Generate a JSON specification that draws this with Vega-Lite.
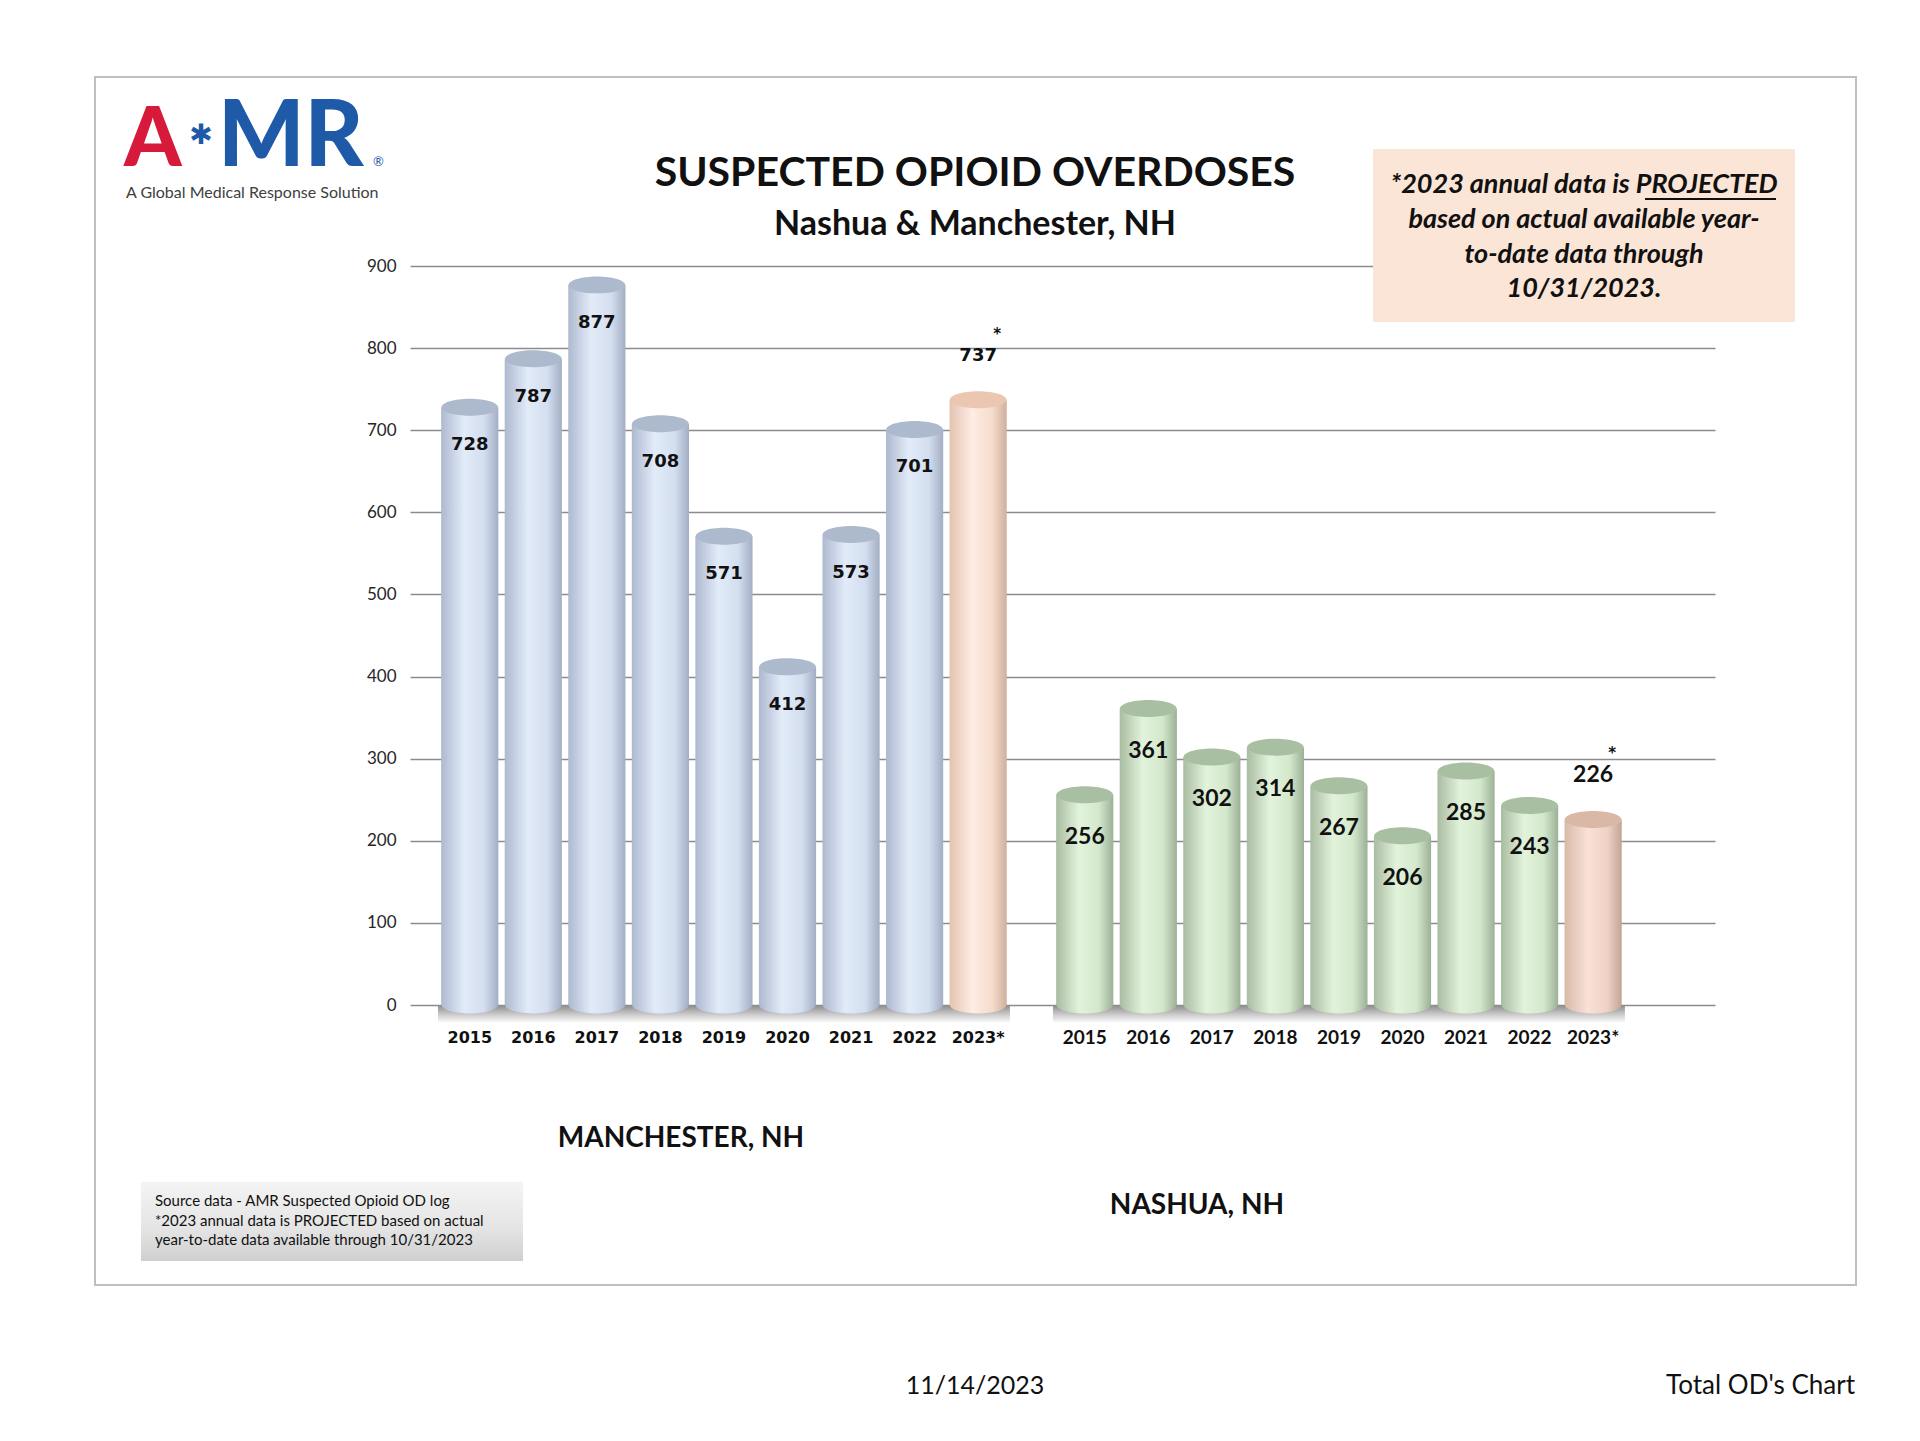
{
  "$schema": "https://vega.github.io/schema/vega-lite/v6.json",
  "width": 1305,
  "height": 739,
  "autosize": {"type": "none"},
  "padding": {"left": 410, "top": 266, "right": 205, "bottom": 436},
  "background": "white",
  "config": {
    "view": {"stroke": null},
    "font": "Lato",
    "axisY": {
      "domain": false, "ticks": false, "grid": true, "gridColor": "#8C8C8C", "gridWidth": 1.5,
      "labelFont": "Lato", "labelFontSize": 17, "labelColor": "#262626", "labelPadding": 14, "title": null
    }
  },
  "datasets": {
    "od": [
      {"city": "Manchester", "year": "2015", "value": 728, "proj": false},
      {"city": "Manchester", "year": "2016", "value": 787, "proj": false},
      {"city": "Manchester", "year": "2017", "value": 877, "proj": false},
      {"city": "Manchester", "year": "2018", "value": 708, "proj": false},
      {"city": "Manchester", "year": "2019", "value": 571, "proj": false},
      {"city": "Manchester", "year": "2020", "value": 412, "proj": false},
      {"city": "Manchester", "year": "2021", "value": 573, "proj": false},
      {"city": "Manchester", "year": "2022", "value": 701, "proj": false},
      {"city": "Manchester", "year": "2023*", "value": 737, "proj": true},
      {"city": "Nashua", "year": "2015", "value": 256, "proj": false},
      {"city": "Nashua", "year": "2016", "value": 361, "proj": false},
      {"city": "Nashua", "year": "2017", "value": 302, "proj": false},
      {"city": "Nashua", "year": "2018", "value": 314, "proj": false},
      {"city": "Nashua", "year": "2019", "value": 267, "proj": false},
      {"city": "Nashua", "year": "2020", "value": 206, "proj": false},
      {"city": "Nashua", "year": "2021", "value": 285, "proj": false},
      {"city": "Nashua", "year": "2022", "value": 243, "proj": false},
      {"city": "Nashua", "year": "2023*", "value": 226, "proj": true}
    ],
    "cities": [
      {"city": "Manchester", "label": "MANCHESTER, NH"},
      {"city": "Nashua", "label": "NASHUA, NH"}
    ],
    "one": [{}]
  },
  "layer": [
    {
      "data": {"name": "one"},
      "mark": {"type": "rect", "x": -315, "x2": 1446, "y": -189, "y2": 1019, "fill": "transparent", "stroke": "#BFBFBF", "strokeWidth": 2}
    },
    {
      "data": {"name": "cities"},
      "mark": {"type": "bar", "fill": {"gradient": "linear", "x1": 0, "x2": 0, "y1": 0, "y2": 1, "stops": [{"offset": 0, "color": "#8A8A8A"}, {"offset": 0.5, "color": "#C8C8C8"}, {"offset": 1, "color": "#FFFFFF"}]}},
      "encoding": {
        "x": {"field": "city", "type": "nominal", "axis": null},
        "y": {"datum": 0, "type": "quantitative"},
        "y2": {"datum": -22}
      }
    },
    {
      "data": {"name": "od"},
      "encoding": {
        "x": {"field": "city", "type": "nominal", "axis": null, "scale": {"paddingInner": 0.07, "paddingOuter": 0.096, "align": 0.237}},
        "xOffset": {"field": "year", "type": "nominal", "scale": {"paddingInner": 0.1, "paddingOuter": 0.05}},
        "y": {"field": "value", "type": "quantitative", "scale": {"domain": [0, 900], "nice": false},
              "axis": {"values": [0, 100, 200, 300, 400, 500, 600, 700, 800, 900]}}
      },
      "layer": [
        {
          "mark": {"type": "point", "filled": true, "opacity": 1, "strokeWidth": 0, "size": 3200,
                   "shape": "M -1 0 A 1 0.3 0 1 1 1 0 A 1 0.3 0 1 1 -1 0 Z"},
          "encoding": {
            "y": {"datum": 0, "type": "quantitative"},
            "fill": {
              "condition": [
                {"test": "datum.city === 'Manchester' && datum.proj", "value": {"gradient": "linear", "x1": 0, "x2": 1, "y1": 0, "y2": 0, "stops": [{"offset": 0, "color": "#E4C3B0"}, {"offset": 0.4, "color": "#FDEDE3"}, {"offset": 0.75, "color": "#F5DCCB"}, {"offset": 1, "color": "#CFAF9D"}]}},
                {"test": "datum.city === 'Nashua' && datum.proj", "value": {"gradient": "linear", "x1": 0, "x2": 1, "y1": 0, "y2": 0, "stops": [{"offset": 0, "color": "#D9B9A9"}, {"offset": 0.4, "color": "#F8E1D6"}, {"offset": 0.75, "color": "#EFD2C4"}, {"offset": 1, "color": "#C3A597"}]}},
                {"test": "datum.city === 'Nashua'", "value": {"gradient": "linear", "x1": 0, "x2": 1, "y1": 0, "y2": 0, "stops": [{"offset": 0, "color": "#A9BDA2"}, {"offset": 0.4, "color": "#E2F3DC"}, {"offset": 0.75, "color": "#D3E8CB"}, {"offset": 1, "color": "#9CB096"}]}}
              ],
              "value": {"gradient": "linear", "x1": 0, "x2": 1, "y1": 0, "y2": 0, "stops": [{"offset": 0, "color": "#AEB9D0"}, {"offset": 0.4, "color": "#E2EBF8"}, {"offset": 0.75, "color": "#D3DEEF"}, {"offset": 1, "color": "#A3AEC4"}]}
            }
          }
        },
        {
          "mark": {"type": "bar"},
          "encoding": {
            "fill": {
              "condition": [
                {"test": "datum.city === 'Manchester' && datum.proj", "value": {"gradient": "linear", "x1": 0, "x2": 1, "y1": 0, "y2": 0, "stops": [{"offset": 0, "color": "#E4C3B0"}, {"offset": 0.4, "color": "#FDEDE3"}, {"offset": 0.75, "color": "#F5DCCB"}, {"offset": 1, "color": "#CFAF9D"}]}},
                {"test": "datum.city === 'Nashua' && datum.proj", "value": {"gradient": "linear", "x1": 0, "x2": 1, "y1": 0, "y2": 0, "stops": [{"offset": 0, "color": "#D9B9A9"}, {"offset": 0.4, "color": "#F8E1D6"}, {"offset": 0.75, "color": "#EFD2C4"}, {"offset": 1, "color": "#C3A597"}]}},
                {"test": "datum.city === 'Nashua'", "value": {"gradient": "linear", "x1": 0, "x2": 1, "y1": 0, "y2": 0, "stops": [{"offset": 0, "color": "#A9BDA2"}, {"offset": 0.4, "color": "#E2F3DC"}, {"offset": 0.75, "color": "#D3E8CB"}, {"offset": 1, "color": "#9CB096"}]}}
              ],
              "value": {"gradient": "linear", "x1": 0, "x2": 1, "y1": 0, "y2": 0, "stops": [{"offset": 0, "color": "#AEB9D0"}, {"offset": 0.4, "color": "#E2EBF8"}, {"offset": 0.75, "color": "#D3DEEF"}, {"offset": 1, "color": "#A3AEC4"}]}
            }
          }
        },
        {
          "mark": {"type": "point", "filled": true, "opacity": 1, "strokeWidth": 0, "size": 3200,
                   "shape": "M -1 0 A 1 0.3 0 1 1 1 0 A 1 0.3 0 1 1 -1 0 Z"},
          "encoding": {
            "fill": {
              "condition": [
                {"test": "datum.city === 'Manchester' && datum.proj", "value": "#EBC6B1"},
                {"test": "datum.city === 'Nashua' && datum.proj", "value": "#DAB8A8"},
                {"test": "datum.city === 'Nashua'", "value": "#A9BFA1"}
              ],
              "value": "#ADB9CD"
            }
          }
        },
        {
          "transform": [{"filter": "datum.city === 'Manchester' && !datum.proj"}],
          "mark": {"type": "text", "font": "DejaVu Sans", "fontWeight": "bold", "fontSize": 18, "baseline": "middle", "dy": 38, "color": "#111111"},
          "encoding": {"text": {"field": "value", "type": "quantitative"}}
        },
        {
          "transform": [{"filter": "datum.city === 'Manchester' && datum.proj"}],
          "mark": {"type": "text", "font": "DejaVu Sans", "fontWeight": "bold", "fontSize": 18, "baseline": "middle", "dy": -44, "color": "#111111"},
          "encoding": {"text": {"field": "value", "type": "quantitative"}}
        },
        {
          "transform": [{"filter": "datum.city === 'Nashua' && !datum.proj"}],
          "mark": {"type": "text", "font": "Lato", "fontWeight": "bold", "fontSize": 23, "baseline": "middle", "dy": 42, "color": "#111111"},
          "encoding": {"text": {"field": "value", "type": "quantitative"}}
        },
        {
          "transform": [{"filter": "datum.city === 'Nashua' && datum.proj"}],
          "mark": {"type": "text", "font": "Lato", "fontWeight": "bold", "fontSize": 23, "baseline": "middle", "dy": -44, "color": "#111111"},
          "encoding": {"text": {"field": "value", "type": "quantitative"}}
        },
        {
          "transform": [{"filter": "datum.proj"}],
          "mark": {"type": "text", "font": "DejaVu Sans", "fontWeight": "bold", "fontSize": 15, "baseline": "middle", "dx": 19, "dy": -66, "color": "#111111"},
          "encoding": {"text": {"value": "*"}}
        },
        {
          "transform": [{"filter": "datum.city === 'Manchester'"}],
          "mark": {"type": "text", "font": "DejaVu Sans", "fontWeight": "bold", "fontSize": 16, "baseline": "middle", "dy": 33, "color": "#111111"},
          "encoding": {"y": {"datum": 0, "type": "quantitative"}, "text": {"field": "year", "type": "nominal"}}
        },
        {
          "transform": [{"filter": "datum.city === 'Nashua'"}],
          "mark": {"type": "text", "font": "Lato", "fontWeight": "bold", "fontSize": 19, "baseline": "middle", "dy": 33, "color": "#111111"},
          "encoding": {"y": {"datum": 0, "type": "quantitative"}, "text": {"field": "year", "type": "nominal"}}
        }
      ]
    },
    {
      "data": {"name": "cities"},
      "transform": [{"filter": "datum.city === 'Manchester'"}],
      "mark": {"type": "text", "font": "Lato", "fontWeight": "bold", "fontSize": 28, "baseline": "middle", "dx": -43, "dy": 134, "color": "#111111"},
      "encoding": {"x": {"field": "city", "type": "nominal", "axis": null}, "y": {"datum": 0, "type": "quantitative"}, "text": {"field": "label", "type": "nominal"}}
    },
    {
      "data": {"name": "cities"},
      "transform": [{"filter": "datum.city === 'Nashua'"}],
      "mark": {"type": "text", "font": "Lato", "fontWeight": "bold", "fontSize": 28, "baseline": "middle", "dx": -142, "dy": 201, "color": "#111111"},
      "encoding": {"x": {"field": "city", "type": "nominal", "axis": null}, "y": {"datum": 0, "type": "quantitative"}, "text": {"field": "label", "type": "nominal"}}
    },
    {
      "data": {"name": "one"},
      "mark": {"type": "rect", "x": 963, "x2": 1385, "y": -117, "y2": 56, "fill": "#FBE5D6"}
    },
    {
      "data": {"name": "one"},
      "mark": {"type": "text", "x": 1174, "y": -81, "align": "center", "baseline": "middle", "font": "Lato", "fontStyle": "italic", "fontWeight": "bold", "fontSize": 27, "color": "#111111", "text": "*2023 annual data is PROJECTED"}
    },
    {
      "data": {"name": "one"},
      "mark": {"type": "text", "x": 1174, "y": -46, "align": "center", "baseline": "middle", "font": "Lato", "fontStyle": "italic", "fontWeight": "bold", "fontSize": 27, "color": "#111111", "text": "based on actual available year-"}
    },
    {
      "data": {"name": "one"},
      "mark": {"type": "text", "x": 1174, "y": -11, "align": "center", "baseline": "middle", "font": "Lato", "fontStyle": "italic", "fontWeight": "bold", "fontSize": 27, "color": "#111111", "text": "to-date data through"}
    },
    {
      "data": {"name": "one"},
      "mark": {"type": "text", "x": 1174, "y": 23, "align": "center", "baseline": "middle", "font": "Lato", "fontStyle": "italic", "fontWeight": "bold", "fontSize": 27, "color": "#111111", "text": "10/31/2023."}
    },
    {
      "data": {"name": "one"},
      "mark": {"type": "rect", "x": 1235, "x2": 1366, "y": -68, "y2": -66, "fill": "#111111"}
    },
    {
      "data": {"name": "one"},
      "mark": {"type": "text", "x": 565, "y": -92, "align": "center", "baseline": "middle", "font": "Lato", "fontWeight": "bold", "fontSize": 41, "color": "#111111", "text": "SUSPECTED OPIOID OVERDOSES"}
    },
    {
      "data": {"name": "one"},
      "mark": {"type": "text", "x": 565, "y": -41, "align": "center", "baseline": "middle", "font": "Lato", "fontWeight": "bold", "fontSize": 34, "color": "#111111", "text": "Nashua & Manchester, NH"}
    },
    {
      "data": {"name": "one"},
      "mark": {"type": "text", "x": -286, "y": -100, "align": "left", "baseline": "alphabetic", "font": "Lato", "fontWeight": 900, "fontSize": 82, "color": "#D7193B", "text": "A"}
    },
    {
      "data": {"name": "one"},
      "mark": {"type": "text", "x": -209, "y": -130, "align": "center", "baseline": "middle", "font": "DejaVu Sans", "fontWeight": "bold", "fontSize": 28, "color": "#1E5AA8", "text": "✱"}
    },
    {
      "data": {"name": "one"},
      "mark": {"type": "text", "x": -192, "y": -100, "align": "left", "baseline": "alphabetic", "font": "Lato", "fontWeight": 900, "fontSize": 91, "color": "#1E5AA8", "text": "MR"}
    },
    {
      "data": {"name": "one"},
      "mark": {"type": "text", "x": -37, "y": -104, "align": "left", "baseline": "middle", "font": "Lato", "fontSize": 13, "color": "#1E5AA8", "text": "®"}
    },
    {
      "data": {"name": "one"},
      "mark": {"type": "text", "x": -284, "y": -73, "align": "left", "baseline": "middle", "font": "Lato", "fontSize": 16, "color": "#404040", "text": "A Global Medical Response Solution"}
    },
    {
      "data": {"name": "one"},
      "mark": {"type": "rect", "x": -269, "x2": 113, "y": 916, "y2": 995,
               "fill": {"gradient": "linear", "x1": 0, "y1": 0, "x2": 0, "y2": 1, "stops": [{"offset": 0, "color": "#F4F4F4"}, {"offset": 0.6, "color": "#E4E4E4"}, {"offset": 1, "color": "#CFCFCF"}]}}
    },
    {
      "data": {"name": "one"},
      "mark": {"type": "text", "x": -255, "y": 935, "align": "left", "baseline": "middle", "font": "Lato", "fontSize": 15, "color": "#111111", "text": "Source data - AMR Suspected Opioid OD log"}
    },
    {
      "data": {"name": "one"},
      "mark": {"type": "text", "x": -255, "y": 955, "align": "left", "baseline": "middle", "font": "Lato", "fontSize": 15, "color": "#111111", "text": " *2023 annual data is PROJECTED based on actual"}
    },
    {
      "data": {"name": "one"},
      "mark": {"type": "text", "x": -255, "y": 974, "align": "left", "baseline": "middle", "font": "Lato", "fontSize": 15, "color": "#111111", "text": "year-to-date data available through 10/31/2023"}
    },
    {
      "data": {"name": "one"},
      "mark": {"type": "text", "x": 565, "y": 1120, "align": "center", "baseline": "middle", "font": "Lato", "fontSize": 25, "color": "#111111", "text": "11/14/2023"}
    },
    {
      "data": {"name": "one"},
      "mark": {"type": "text", "x": 1445, "y": 1120, "align": "right", "baseline": "middle", "font": "Lato", "fontSize": 26, "color": "#111111", "text": "Total OD's Chart"}
    }
  ]
}
